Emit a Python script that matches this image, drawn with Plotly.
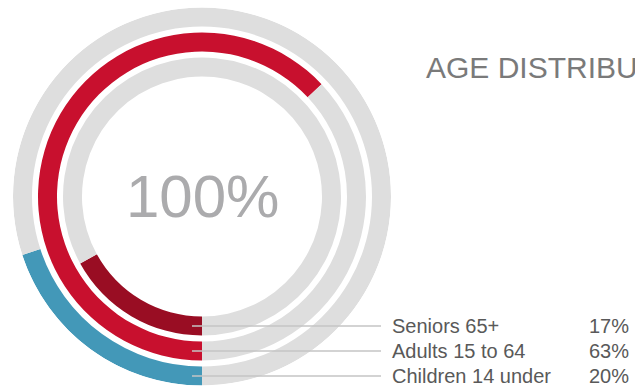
import plotly.graph_objects as go

# ---- data ----
categories = ["Seniors 65+", "Adults 15 to 64", "Children 14 under"]
percents = [17, 63, 20]
center_label = "100%"
title_text = "AGE DISTRIBUTION"

# ---- style / geometry ----
W, H = 635, 389
CX, CY, R = 202, 196.5, 189           # pixel centre and outer radius
ring_base = [120, 145, 170]           # inner radius of each ring (px)
ring_thick = 19
colors = ["#990d23", "#c8102e", "#4398b8"]
grey = "#dedede"
line_col = "#c4c4c4"
font = "Liberation Sans, Arial, sans-serif"

fig = go.Figure()
for cat, p, base, col in zip(categories, percents, ring_base, colors):
    span = p / 100 * 360
    fig.add_trace(go.Barpolar(
        r=[ring_thick], base=[base], theta=[span / 2], width=[span],
        marker=dict(color=col, line=dict(width=0)), name=cat,
        hoverinfo="skip", showlegend=False))
    rest = 360 - span
    fig.add_trace(go.Barpolar(
        r=[ring_thick], base=[base], theta=[span + rest / 2], width=[rest],
        marker=dict(color=grey, line=dict(width=0)),
        hoverinfo="skip", showlegend=False))

def px(x):
    return x / W

def py(y):
    return 1 - y / H

def clamp(v):
    return min(1.0, max(0.0, v))

fig.update_layout(
    width=W, height=H,
    margin=dict(l=0, r=0, t=0, b=0),
    paper_bgcolor="white", plot_bgcolor="white",
    polar=dict(
        domain=dict(x=[clamp(px(CX - R)), clamp(px(CX + R))],
                    y=[clamp(py(CY + R)), clamp(py(CY - R))]),
        bgcolor="white",
        radialaxis=dict(range=[0, R], visible=False),
        angularaxis=dict(rotation=-90, direction="clockwise", visible=False),
        barmode="overlay",
    ),
)

shapes = []
annotations = []
for cat, p, base in zip(categories, percents, ring_base):
    yy = CY + base + ring_thick / 2
    shapes.append(dict(type="line", xref="paper", yref="paper",
                       x0=px(CX - 10), x1=px(381), y0=py(yy), y1=py(yy),
                       line=dict(color=line_col, width=1.5)))
    annotations.append(dict(xref="paper", yref="paper", x=px(390), y=py(yy),
                            xanchor="left", yanchor="middle", showarrow=False,
                            text=cat, font=dict(family=font, size=20, color="#595959")))
    annotations.append(dict(xref="paper", yref="paper", x=px(631), y=py(yy),
                            xanchor="right", yanchor="middle", showarrow=False,
                            text=f"{p}%", font=dict(family=font, size=20, color="#595959")))

annotations.append(dict(xref="paper", yref="paper", x=px(CX), y=py(CY),
                        xanchor="center", yanchor="middle", showarrow=False,
                        text=center_label, font=dict(family=font, size=60, color="#ababad")))
annotations.append(dict(xref="paper", yref="paper", x=px(424), y=py(67.5),
                        xanchor="left", yanchor="middle", showarrow=False,
                        text=title_text, font=dict(family=font, size=30, color="#7a7a7a")))

fig.update_layout(shapes=shapes, annotations=annotations)
fig.write_html(
    "out.html",
    config={"displayModeBar": False},
    post_script="document.body.style.margin='0';document.body.style.overflow='hidden';",
)
